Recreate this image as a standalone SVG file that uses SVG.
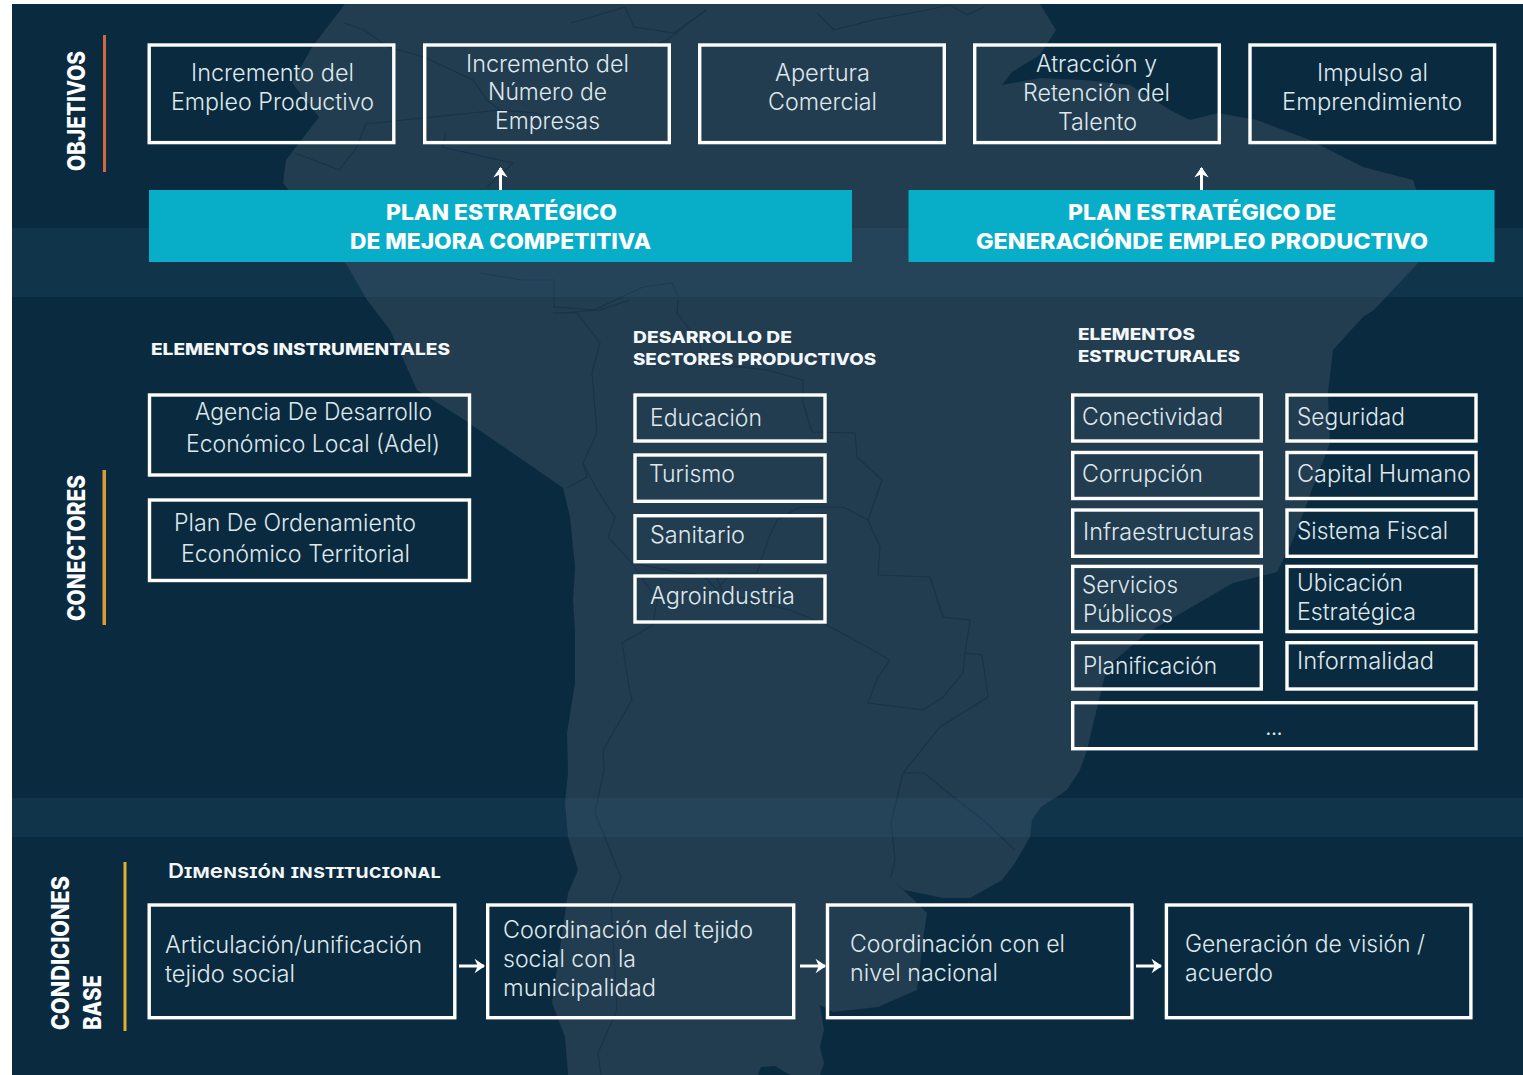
<svg xmlns="http://www.w3.org/2000/svg" width="1523" height="1075" viewBox="0 0 1523 1075">
<style>
text{font-family:"Inter","Noto Sans","Liberation Sans",sans-serif}
.box{fill:none;stroke:#fff;stroke-width:3.4}
.t{font-size:23.5px;font-weight:300;fill:#dfe8ec}
.h{font-size:16px;font-weight:800;fill:#f4f7f8}
.p{font-size:21px;font-weight:800;fill:#fff}
.s{font-size:24px;font-weight:800;fill:#fff}
.b{fill:none;stroke:#18334a;stroke-width:1.1;stroke-linejoin:round}
.c{fill:none;stroke:#fff;stroke-width:3}
</style>
<defs>
<marker id="ah" markerUnits="userSpaceOnUse" markerWidth="16" markerHeight="16" refX="12" refY="8" orient="auto">
<path d="M4 2.500L12 8L4 13.500L6.500 8Z" fill="#fff" stroke="#fff" stroke-width="1.200"/>
</marker>
</defs>
<rect width="1523" height="1075" fill="#fff"/>
<g id="background">
<rect x="12" y="4" width="1511" height="1071" fill="#0a2a3f"/>
<path d="M345 4L1040 4L1056 30L1040 55L1012 72L1002 85L1040 78L1084 80L1130 85L1170 110L1190 120L1218 113L1257 120L1310 140L1363 167L1413 180L1430 233L1418 263L1374 310L1363 317L1333 350L1328 393L1330 443L1313 487L1293 540L1277 572L1233 583L1147 633L1107 667L1087 750L1080 770L1067 790L1041 807L1032 820L1030 837L1015 863L1002 880L970 898L943 898L904 890L891 878L917 903L927 913L924 933L917 990L878 1007L833 1012L820 1005L824 1030L820 1047L824 1063L820 1075L790 1075L775 1066L761 1067L758 1075L568 1075L565 1037L552 1003L568 893L578 870L568 837L565 803L568 773L567 733L575 683L575 633L573 600L575 567L570 517L563 488L533 467L460 417L417 390L390 330L367 300L348 267L283 183L286 160L319 117L292 83L312 47Z" fill="#223c50"/>
<g class="map-lines">
<path class="b" d="M553 313L577 313L600 343L592 373L597 433L583 463L587 477L567 488"/>
<path class="b" d="M560 313L600 310L630 300"/>
<path class="b" d="M583 463L597 490L615 517L608 537L632 563L657 600L653 625L622 643L630 693L632 700L603 750L604 770L595 813L621 877L611 903L617 1010L598 1053L601 1075"/>
<path class="b" d="M678 300L677 313L700 343L703 363L767 370L803 380L803 403L812 432L855 433L857 457L882 480L868 520L880 547L878 575L930 577L943 617L970 620L965 653L982 655L988 697L940 727L903 773L891 823L895 860L891 877"/>
<path class="b" d="M903 773L924 773L957 800L983 820L1015 850"/>
<path class="b" d="M827 625L860 643L890 660L878 677L868 703L923 710L943 697L963 673L965 653"/>
<path class="b" d="M632 563L677 572L703 575L717 590L730 573L757 573L768 540L777 520L800 507L843 507L868 520"/>
<path class="b" d="M717 577L723 593L790 610L827 625"/>
<path class="b" d="M344 23L364 30L388 47L424 57L473 80L487 100L500 110L536 113L562 123"/>
<path class="b" d="M500 110L375 123L366 123L357 147L339 170L295 153"/>
<path class="b" d="M446 133L442 147L513 163L487 187"/>
<path class="b" d="M571 23L625 7L634 27L674 33L706 10"/>
<path class="b" d="M650 47L667 40L706 10"/>
<path class="b" d="M817 13L834 30L873 20L912 13L950 5L967 15L984 7"/>
<path class="b" d="M480 273L522 280L554 280L554 307L594 310L643 287L672 283L678 297"/>
</g>
<rect x="12" y="228" width="1511" height="69" fill="#4aa0c0" opacity=".09"/>
<rect x="12" y="798" width="1511" height="39" fill="#4aa0c0" opacity=".09"/>
<rect x="103" y="35" width="3" height="137" fill="#d2693a"/>
<rect x="102.500" y="470" width="3.500" height="155" fill="#e09a32"/>
<rect x="123.500" y="862" width="3" height="169" fill="#e0b030"/>
</g>
<g id="section-labels">
<text class="s" transform="translate(85 171) rotate(-90)" textLength="120" lengthAdjust="spacingAndGlyphs">OBJETIVOS</text>
<text class="s" transform="translate(85 621) rotate(-90)" textLength="146" lengthAdjust="spacingAndGlyphs">CONECTORES</text>
<text class="s" transform="translate(68.500 1030) rotate(-90)" textLength="154" lengthAdjust="spacingAndGlyphs">CONDICIONES</text>
<text class="s" transform="translate(101 1030) rotate(-90)" textLength="55" lengthAdjust="spacingAndGlyphs">BASE</text>
</g>
<g id="connectors">
<path class="c" marker-end="url(#ah)" d="M500.500 190V168"/>
<path class="c" marker-end="url(#ah)" d="M1201.500 190V168"/>
<path class="c" marker-end="url(#ah)" d="M459 966H484"/>
<path class="c" marker-end="url(#ah)" d="M800 966H825"/>
<path class="c" marker-end="url(#ah)" d="M1136 966H1161"/>
</g>
<g id="obj-1"><rect class="box" x="149.200" y="45" width="244.600" height="97.600"/><text class="t" x="191" y="81" textLength="163" lengthAdjust="spacingAndGlyphs">Incremento del</text><text class="t" x="171" y="109.500" textLength="203" lengthAdjust="spacingAndGlyphs">Empleo Productivo</text></g>
<g id="obj-2"><rect class="box" x="424.700" y="45" width="244.600" height="97.600"/><text class="t" x="466" y="71.500" textLength="163" lengthAdjust="spacingAndGlyphs">Incremento del</text><text class="t" x="488" y="100.300" textLength="119" lengthAdjust="spacingAndGlyphs">Número de</text><text class="t" x="495" y="129.300" textLength="105" lengthAdjust="spacingAndGlyphs">Empresas</text></g>
<g id="obj-3"><rect class="box" x="699.700" y="45" width="244.600" height="97.600"/><text class="t" x="775" y="81" textLength="95" lengthAdjust="spacingAndGlyphs">Apertura</text><text class="t" x="768" y="109.500" textLength="109" lengthAdjust="spacingAndGlyphs">Comercial</text></g>
<g id="obj-4"><rect class="box" x="974.700" y="45" width="244.600" height="97.600"/><text class="t" x="1036" y="71.700" textLength="121" lengthAdjust="spacingAndGlyphs">Atracción y</text><text class="t" x="1023" y="100.700" textLength="147" lengthAdjust="spacingAndGlyphs">Retención del</text><text class="t" x="1058" y="130" textLength="79" lengthAdjust="spacingAndGlyphs">Talento</text></g>
<g id="obj-5"><rect class="box" x="1250" y="45" width="244.600" height="97.600"/><text class="t" x="1317" y="81" textLength="111" lengthAdjust="spacingAndGlyphs">Impulso al</text><text class="t" x="1282" y="109.500" textLength="180" lengthAdjust="spacingAndGlyphs">Emprendimiento</text></g>
<g id="plan-1"><rect x="149" y="190" width="703" height="72" fill="#08aec8"/><text class="p" x="386" y="220" textLength="231" lengthAdjust="spacingAndGlyphs">PLAN ESTRATÉGICO</text><text class="p" x="350" y="249" textLength="301" lengthAdjust="spacingAndGlyphs">DE MEJORA COMPETITIVA</text></g>
<g id="plan-2"><rect x="908.500" y="190" width="586" height="72" fill="#08aec8"/><text class="p" x="1068" y="220" textLength="268" lengthAdjust="spacingAndGlyphs">PLAN ESTRATÉGICO DE</text><text class="p" x="976" y="249" textLength="452" lengthAdjust="spacingAndGlyphs">GENERACIÓNDE EMPLEO PRODUCTIVO</text></g>
<g id="headings">
<text class="h" x="151" y="354.800" textLength="299" lengthAdjust="spacingAndGlyphs">ELEMENTOS INSTRUMENTALES</text>
<text class="h" x="633" y="342.500" textLength="159" lengthAdjust="spacingAndGlyphs">DESARROLLO DE</text>
<text class="h" x="633" y="365" textLength="243" lengthAdjust="spacingAndGlyphs">SECTORES PRODUCTIVOS</text>
<text class="h" x="1078" y="340" textLength="117" lengthAdjust="spacingAndGlyphs">ELEMENTOS</text>
<text class="h" x="1078" y="362" textLength="162" lengthAdjust="spacingAndGlyphs">ESTRUCTURALES</text>
<text x="168" y="878" textLength="273" lengthAdjust="spacingAndGlyphs" style="font-size:20px;font-weight:600;font-variant:small-caps;fill:#f4f7f8">Dimensión institucional</text>
</g>
<g id="inst-1"><rect class="box" x="149.500" y="395" width="320" height="80"/><text class="t" x="195" y="420" textLength="237" lengthAdjust="spacingAndGlyphs">Agencia De Desarrollo</text><text class="t" x="186" y="452" textLength="254" lengthAdjust="spacingAndGlyphs">Económico Local (Adel)</text></g>
<g id="inst-2"><rect class="box" x="149.500" y="500" width="320" height="80.500"/><text class="t" x="174" y="530.500" textLength="242" lengthAdjust="spacingAndGlyphs">Plan De Ordenamiento</text><text class="t" x="181" y="561.700" textLength="229" lengthAdjust="spacingAndGlyphs">Económico Territorial</text></g>
<g id="sec-1"><rect class="box" x="635" y="395" width="190" height="46"/><text class="t" x="650" y="426" textLength="112" lengthAdjust="spacingAndGlyphs">Educación</text></g>
<g id="sec-2"><rect class="box" x="635" y="455" width="190" height="46.300"/><text class="t" x="649" y="482" textLength="86" lengthAdjust="spacingAndGlyphs">Turismo</text></g>
<g id="sec-3"><rect class="box" x="635" y="515.700" width="190" height="46"/><text class="t" x="650" y="542.700" textLength="95" lengthAdjust="spacingAndGlyphs">Sanitario</text></g>
<g id="sec-4"><rect class="box" x="635" y="576" width="190" height="46"/><text class="t" x="650" y="603.500" textLength="145" lengthAdjust="spacingAndGlyphs">Agroindustria</text></g>
<g id="est-1"><rect class="box" x="1072.700" y="395" width="188.600" height="46"/><text class="t" x="1082" y="425" textLength="141" lengthAdjust="spacingAndGlyphs">Conectividad</text></g>
<g id="est-2"><rect class="box" x="1287" y="395" width="189" height="46"/><text class="t" x="1297" y="425" textLength="108" lengthAdjust="spacingAndGlyphs">Seguridad</text></g>
<g id="est-3"><rect class="box" x="1072.700" y="452.500" width="188.600" height="46"/><text class="t" x="1082" y="481.700" textLength="121" lengthAdjust="spacingAndGlyphs">Corrupción</text></g>
<g id="est-4"><rect class="box" x="1287" y="452.500" width="189" height="46"/><text class="t" x="1297" y="481.700" textLength="174" lengthAdjust="spacingAndGlyphs">Capital Humano</text></g>
<g id="est-5"><rect class="box" x="1072.700" y="510" width="188.600" height="46.300"/><text class="t" x="1083" y="540" textLength="171" lengthAdjust="spacingAndGlyphs">Infraestructuras</text></g>
<g id="est-6"><rect class="box" x="1287" y="510" width="189" height="46.300"/><text class="t" x="1297" y="539" textLength="151" lengthAdjust="spacingAndGlyphs">Sistema Fiscal</text></g>
<g id="est-7"><rect class="box" x="1072.700" y="566.400" width="188.600" height="65.200"/><text class="t" x="1082" y="592.700" textLength="96" lengthAdjust="spacingAndGlyphs">Servicios</text><text class="t" x="1083" y="621.500" textLength="90" lengthAdjust="spacingAndGlyphs">Públicos</text></g>
<g id="est-8"><rect class="box" x="1287" y="566.400" width="189" height="65.200"/><text class="t" x="1297" y="591" textLength="106" lengthAdjust="spacingAndGlyphs">Ubicación</text><text class="t" x="1297" y="620" textLength="119" lengthAdjust="spacingAndGlyphs">Estratégica</text></g>
<g id="est-9"><rect class="box" x="1072.700" y="642.700" width="188.600" height="46.300"/><text class="t" x="1083" y="673.500" textLength="134" lengthAdjust="spacingAndGlyphs">Planificación</text></g>
<g id="est-10"><rect class="box" x="1287" y="642.700" width="189" height="46.300"/><text class="t" x="1297" y="668.500" textLength="137" lengthAdjust="spacingAndGlyphs">Informalidad</text></g>
<g id="est-11"><rect class="box" x="1072.700" y="702.700" width="403.300" height="46"/><text class="t" x="1265" y="735" textLength="18" lengthAdjust="spacing">...</text></g>
<g id="inst-dim-1"><rect class="box" x="149.200" y="905" width="305.600" height="112.700"/><text class="t" x="165" y="952.700" textLength="257" lengthAdjust="spacingAndGlyphs">Articulación/unificación</text><text class="t" x="165" y="981.700" textLength="130" lengthAdjust="spacingAndGlyphs">tejido social</text></g>
<g id="inst-dim-2"><rect class="box" x="487.700" y="905" width="306" height="112.700"/><text class="t" x="503" y="938" textLength="250" lengthAdjust="spacingAndGlyphs">Coordinación del tejido</text><text class="t" x="503" y="966.500" textLength="133" lengthAdjust="spacingAndGlyphs">social con la</text><text class="t" x="503" y="995.500" textLength="153" lengthAdjust="spacingAndGlyphs">municipalidad</text></g>
<g id="inst-dim-3"><rect class="box" x="827.500" y="905" width="304.500" height="112.700"/><text class="t" x="850" y="951.500" textLength="215" lengthAdjust="spacingAndGlyphs">Coordinación con el</text><text class="t" x="850" y="980.500" textLength="148" lengthAdjust="spacingAndGlyphs">nivel nacional</text></g>
<g id="inst-dim-4"><rect class="box" x="1166.400" y="905" width="304.500" height="112.700"/><text class="t" x="1185" y="951.500" textLength="240" lengthAdjust="spacingAndGlyphs">Generación de visión /</text><text class="t" x="1185" y="980.500" textLength="88" lengthAdjust="spacingAndGlyphs">acuerdo</text></g>
</svg>
